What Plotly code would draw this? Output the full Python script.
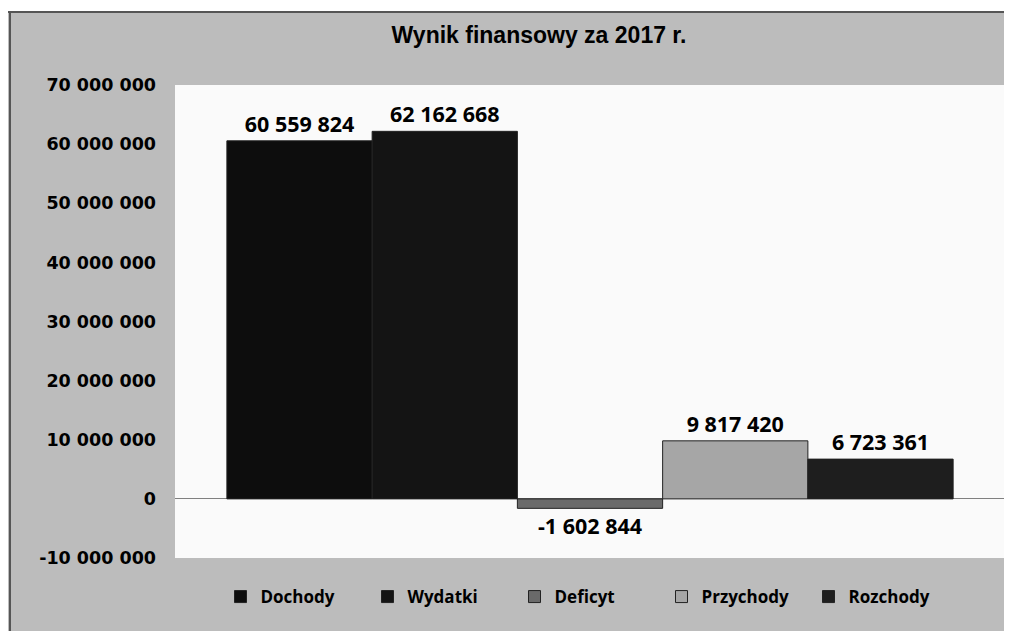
import plotly.graph_objects as go

title_text = "Wynik finansowy za 2017 r."
category = ["2017"]
series_names = ["Dochody", "Wydatki", "Deficyt", "Przychody", "Rozchody"]
series_values = [60559824, 62162668, -1602844, 9817420, 6723361]
series_colors = ["#0d0d0d", "#141414", "#6a6a6a", "#a6a6a6", "#1e1e1e"]
y_ticks = [-10000000, 0, 10000000, 20000000, 30000000, 40000000, 50000000, 60000000, 70000000]


def fmt(v):
    return f"{v:,}".replace(",", " ")


fig = go.Figure()
for name, val, col in zip(series_names, series_values, series_colors):
    fig.add_trace(go.Bar(
        x=category, y=[val], name=name,
        marker=dict(color=col, line=dict(color="#222222", width=1)),
        text=[fmt(val)], texttemplate="%{text}", textposition="outside",
        textfont=dict(family="Open Sans", size=21.5, color="#000000", weight="bold"),
        cliponaxis=False,
    ))

fig.update_layout(
    width=1012, height=631,
    paper_bgcolor="#bcbcbc",
    plot_bgcolor="#fafafa",
    margin=dict(l=167, r=15, t=77, b=81),
    bargap=0.125, bargroupgap=0,
    barmode="group",
    title=dict(text="<b>" + title_text + "</b>", x=531 / 1012, xanchor="center", y=1 - 27 / 631, yanchor="middle",
               font=dict(family="Liberation Sans, Arial", size=23, color="#000000")),
    xaxis=dict(visible=False),
    yaxis=dict(range=[-10000000, 70000000], tickvals=y_ticks, ticktext=[fmt(t) for t in y_ticks],
               showgrid=False, zeroline=True, zerolinecolor="#808080", zerolinewidth=1,
               ticks="", ticklabelstandoff=18,
               tickfont=dict(family="DejaVu Sans", size=17.5, color="#000000", weight="bold")),
    legend=dict(orientation="h", x=0.4976, xanchor="center", y=-0.0825, yanchor="middle",
                bgcolor="rgba(0,0,0,0)", entrywidth=102, entrywidthmode="pixels",
                font=dict(family="Open Sans", size=17, color="#000000", weight="bold"),
                itemwidth=30),
    showlegend=True,
)

# white strip and border lines of the scanned frame
top_y = 1 + 73 / 473
fig.add_shape(type="rect", xref="paper", yref="paper", x0=-0.3, x1=1.1, y0=top_y, y1=1.3,
              fillcolor="#ffffff", line=dict(width=0), layer="below")
fig.add_shape(type="line", xref="paper", yref="paper", x0=-0.3, x1=1.1, y0=top_y, y1=top_y,
              line=dict(color="#555555", width=2))
fig.add_shape(type="line", xref="paper", yref="paper", x0=-165 / 830, x1=-165 / 830, y0=-0.2, y1=top_y,
              line=dict(color="#555555", width=2))

fig.write_html("out.html")
